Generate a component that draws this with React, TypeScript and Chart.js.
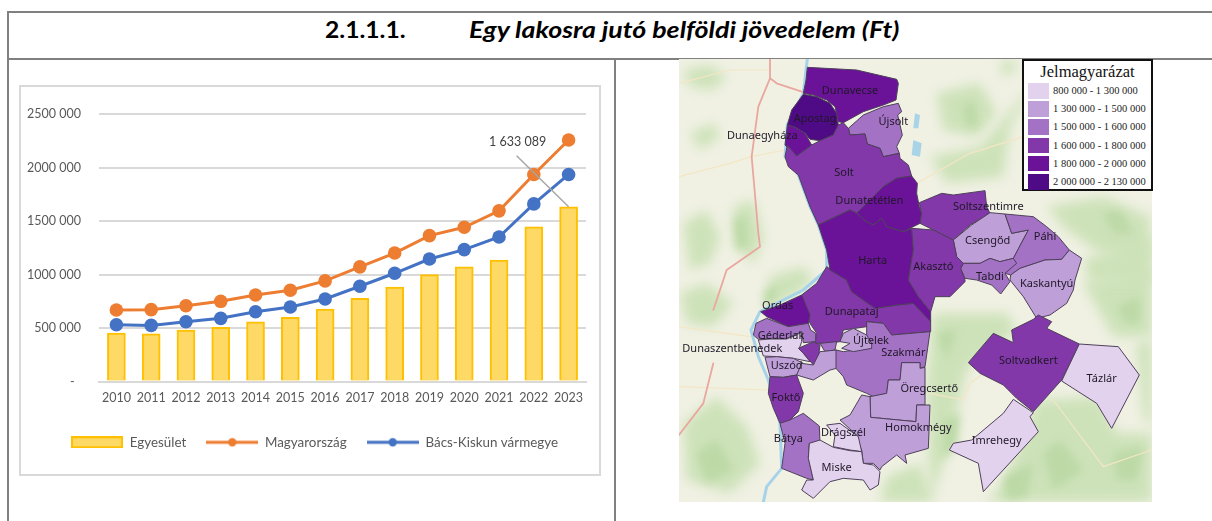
import React, { useEffect, useRef } from "react";
import { Chart, registerables } from "chart.js";

Chart.register(...registerables);

const years = ["2010","2011","2012","2013","2014","2015","2016","2017","2018","2019","2020","2021","2022","2023"];
const egyesulet = [453000,447000,481000,506000,559000,600000,678000,778000,884000,1000000,1072000,1135000,1445000,1633089];
const magyarorszag = [669000,672000,709000,750000,809000,853000,941000,1072000,1201000,1364000,1442000,1595000,1935000,2257000];
const bacsKiskun = [531000,525000,559000,591000,653000,697000,772000,891000,1012000,1145000,1233000,1351000,1660000,1935000];
const seriesNames = ["Egyesület", "Magyarország", "Bács-Kiskun vármegye"];
const barFill = "#FFD966", barEdge = "#FFC000", orange = "#ED7D31", blue = "#4472C4";
const CHART_FONT = "Lato";

const legendTitle = "Jelmagyarázat";
const legendRanges = ["800 000 - 1 300 000","1 300 000 - 1 500 000","1 500 000 - 1 600 000","1 600 000 - 1 800 000","1 800 000 - 2 000 000","2 000 000 - 2 130 000"];
const classColors = ["#e3d2ee","#bf9fd8","#a472c4","#8238a9","#6a1399","#4f0b85"];

type Pt = [number, number];
type Area = [string, number, Pt[]];
const v = (pts: Pt[]): Pt[] => pts.map(([x, y]) => [x, y + 690] as Pt);

const greenPatches: Pt[][] = [
  [[40,60],[120,45],[170,80],[130,120],[60,110]],
  [[60,250],[130,220],[150,260],[90,300]],
  [[40,520],[110,480],[150,560],[120,640],[60,660]],
  [[190,470],[250,450],[280,560],[250,640],[200,590]],
  [[30,730],[110,700],[190,760],[130,830],[50,820]],
  [[300,680],[400,650],[430,690],[370,740],[290,770]],
  [[800,130],[930,100],[980,190],[920,260],[820,240]],
  [[1130,470],[1300,440],[1440,500],[1440,640],[1290,610],[1190,540]],
  [[1000,30],[1040,30],[1030,70],[990,75]],
  [[790,790],[1010,790],[1040,840],[890,960],[840,1180],[780,1356],[770,1000]],
  [[1240,700],[1445,650],[1445,860],[1330,860]],
  [[1100,1050],[1290,1040],[1340,1150],[1445,1150],[1445,1356],[950,1356],[1000,1300]],
  [[40,1120],[140,1040],[230,1130],[270,1240],[180,1330],[50,1290]],
  [[650,1280],[750,1240],[790,1356],[630,1356]],
  [[1400,880],[1445,870],[1445,1130],[1420,1100]],
  [[1100,90],[1020,230],[1000,380],[830,400],[780,320],[930,290]],
  [[1240,630],[1445,560],[1445,700],[1260,700]],
];
const darkPatches: Pt[][] = [
  [[880,170],[910,150],[925,230],[890,230]],
  [[1300,490],[1350,480],[1390,550],[1330,550]],
  [[1120,1210],[1170,1170],[1240,1260],[1150,1320]],
  [[820,1110],[870,1090],[860,1190],[815,1230]],
  [[1340,770],[1410,740],[1410,820],[1370,820]],
  [[80,1210],[140,1170],[190,1260],[110,1300]],
  [[190,510],[225,495],[235,590],[200,600]],
  [[285,720],[325,705],[315,755],[282,770]],
  [[1000,1280],[1090,1240],[1070,1340],[1010,1350]],
  [[800,850],[860,840],[830,930]],
  [[1330,1210],[1420,1190],[1400,1290],[1340,1290]],
];
const lakes: Pt[][] = [
  [[735,190],[750,195],[745,235],[730,235]],
  [[730,270],[755,280],[750,320],[725,315]],
];
const danube: Pt[] = [[412,27],[400,130],[352,225],[345,320],[385,375],[420,470],[445,525],[470,600],[470,660],[400,720],[270,785],[243,840],[265,920],[295,990],[330,1120],[335,1255],[290,1310],[280,1356]];
const roads: Pt[][] = [
  [[300,27],[300,85],[320,100],[395,125]],
  [[300,85],[265,170],[245,320],[265,550],[270,590],[170,660],[130,780]],
  [[130,940],[100,1060],[27,1155]],
];
const lightRoads: Pt[][] = [
  [[27,100],[180,60],[300,60]],
  [[27,380],[180,340],[245,320],[345,300]],
  [[740,400],[900,310],[1060,260],[1445,200]],
  [[780,1030],[880,1050],[900,1000],[1100,850]],
  [[1150,1050],[1300,1250],[1445,1200]],
  [[27,830],[240,860]],
  [[27,1010],[290,1020]],
];

const areas: Area[] = [
  ["Dunavecse", 4, [[412,52],[560,60],[680,88],[685,100],[678,150],[640,165],[580,185],[520,218],[505,215],[495,170],[470,150],[430,135],[400,130],[408,90]]],
  ["Apostag", 5, [[400,133],[440,140],[480,160],[500,190],[505,225],[490,255],[450,272],[420,268],[405,250],[375,232],[352,225],[365,180]]],
  ["Dunaegyháza", 4, [[352,225],[375,232],[405,250],[425,285],[380,318],[345,285]]],
  ["Újsolt", 2, [[535,235],[580,195],[640,170],[685,160],[695,185],[683,195],[697,255],[680,290],[688,310],[640,320],[630,295],[592,282],[585,252],[540,255]]],
  ["Solt", 3, [[352,285],[380,318],[425,285],[450,272],[490,255],[505,225],[520,218],[535,235],[540,255],[585,252],[592,282],[630,295],[640,320],[688,310],[690,325],[715,345],[725,378],[680,385],[640,410],[600,450],[560,490],[540,480],[445,525],[420,470],[385,375],[355,350],[345,320]]],
  ["Dunatetétlen", 4, [[725,378],[742,400],[740,430],[748,470],[755,490],[750,520],[700,545],[650,530],[635,505],[610,525],[585,512],[560,490],[600,450],[640,410],[680,385]]],
  ["Soltszentimre", 3, [[748,458],[815,430],[850,435],[945,422],[950,470],[960,490],[900,525],[850,570],[790,540],[750,520],[755,490]]],
  ["Csengőd", 1, [[850,570],[905,525],[960,488],[1005,492],[1025,550],[1075,540],[1030,625],[990,635],[960,625],[930,640],[880,640],[860,620]]],
  ["Páhi", 2, [[1005,492],[1090,500],[1130,530],[1165,560],[1198,600],[1175,628],[1125,630],[1050,655],[1022,675],[1005,670],[1030,625],[1075,540],[1025,550]]],
  ["Kaskantyú", 1, [[1050,655],[1125,630],[1175,628],[1198,600],[1235,625],[1215,690],[1210,720],[1190,760],[1140,795],[1100,805],[1060,740],[1020,690],[1022,675]]],
  ["Tabdi", 2, [[880,640],[930,640],[960,625],[990,635],[1030,625],[1040,640],[1005,670],[1020,695],[992,732],[965,705],[920,690],[885,685],[872,655]]],
  ["Dunapataj", 3, [[470,650],[530,690],[545,725],[615,775],[680,765],[730,760],[782,815],[782,845],[665,855],[640,820],[590,815],[590,830],[520,840],[510,875],[470,880],[435,880],[440,850],[420,820],[395,735],[440,700]]],
  ["Harta", 4, [[445,525],[540,480],[560,490],[585,512],[610,525],[635,505],[650,530],[700,545],[725,535],[730,600],[715,690],[745,740],[782,785],[782,815],[730,760],[680,765],[615,775],[545,725],[530,690],[480,660],[470,600]]],
  ["Akasztó", 3, [[725,535],[790,540],[850,570],[860,620],[880,640],[872,655],[885,690],[885,695],[840,740],[795,740],[782,785],[745,740],[715,690],[730,600]]],
  ["Ordas", 4, v([[272,95],[330,75],[395,45],[420,105],[415,130],[355,140],[290,110]])],
  ["Géderlak", 2, [[250,855],[258,820],[290,805],[355,830],[415,820],[422,840],[437,850],[437,875],[400,878],[395,845],[350,865],[300,865],[265,868]]],
  ["Dunaszentbenedek", 0, v([[265,180],[300,177],[350,177],[395,157],[395,185],[388,205],[420,245],[370,235],[320,230],[280,228]])],
  ["", 3, v([[385,205],[430,185],[450,195],[445,235],[430,255],[405,225]])],
  ["", 2, v([[450,190],[500,185],[495,210],[465,215]])],
  ["Uszód", 1, v([[285,232],[320,230],[370,235],[400,250],[380,285],[340,292],[300,290]])],
  ["", 1, v([[395,250],[430,255],[450,215],[500,210],[500,265],[480,270],[430,300],[380,285]])],
  ["Szakmár", 2, v([[590,125],[640,130],[665,165],[780,155],[765,260],[750,265],[750,248],[695,248],[690,300],[655,300],[650,340],[610,350],[590,340],[530,315],[520,290],[498,265],[498,210],[520,215],[590,205],[605,190],[590,170]])],
  ["Újtelek", 1, v([[520,160],[550,145],[590,165],[605,190],[605,205],[550,215],[515,205],[540,190],[510,185]])],
  ["Öregcsertő", 1, v([[695,248],[750,248],[750,265],[765,262],[765,375],[740,375],[738,425],[602,412],[600,350],[650,340],[655,300],[690,300]])],
  ["Foktő", 3, v([[300,290],[340,292],[380,285],[400,340],[385,395],[360,420],[330,430],[310,385],[295,340]])],
  ["Bátya", 2, v([[330,430],[360,420],[400,400],[448,438],[450,490],[418,490],[415,530],[430,600],[410,595],[335,565],[345,490]])],
  ["Homokmégy", 1, v([[510,420],[540,405],[575,345],[600,350],[602,412],[738,425],[740,375],[780,375],[775,505],[705,525],[710,550],[680,525],[635,560],[630,570],[610,550],[580,550],[575,510],[565,490],[565,470]])],
  ["Drágszél", 0, v([[470,435],[510,430],[565,470],[575,515],[540,510],[490,500],[495,465]])],
  ["Miske", 0, v([[418,490],[450,480],[490,502],[540,512],[575,515],[580,550],[610,555],[630,575],[625,615],[600,630],[580,600],[520,595],[480,605],[430,655],[395,630],[410,600],[430,600],[415,535]])],
  ["Soltvadkert", 3, v([[895,248],[970,160],[1030,188],[1025,150],[1090,118],[1105,105],[1145,125],[1130,145],[1228,192],[1175,300],[1090,395],[1040,355],[1000,315],[930,280]])],
  ["Tázlár", 0, v([[1228,192],[1345,200],[1408,285],[1325,445],[1280,370],[1175,303]])],
  ["Imrehegy", 0, v([[1030,358],[1090,398],[1080,410],[1105,455],[940,635],[925,550],[838,510],[850,490],[905,480],[1000,400]])],
];

const placeNames = ["Dunavecse","Apostag","Dunaegyháza","Újsolt","Solt","Dunatetétlen","Soltszentimre","Csengőd","Páhi","Harta","Akasztó","Tabdi","Kaskantyú","Ordas","Dunapataj","Géderlak","Újtelek","Dunaszentbenedek","Szakmár","Uszód","Öregcsertő","Soltvadkert","Tázlár","Foktő","Homokmégy","Drágszél","Bátya","Imrehegy","Miske"];
const placeX = [540,435,277,670,522,598,955,953,1125,608,790,960,1130,323,545,333,603,187,700,350,778,1075,1295,348,745,520,355,980,500];
const placeY = [123,208,257,217,368,452,470,573,562,634,652,682,702,768,787,858,873,897,910,948,1018,933,987,1045,1135,1150,1167,1172,1255];

const fmtTick = (n: number) => {
  if (n === 0) return "-\u00a0\u00a0";
  const s = String(n);
  return s.slice(0, -3) + " " + s.slice(-3);
};
const fmtLabel = (n: number) => String(n).replace(/\B(?=(\d{3})+$)/g, " ");

function legendIcon(kind: "bar" | "line", color: string, edge?: string) {
  const c = document.createElement("canvas");
  c.width = 52; c.height = 12;
  const g = c.getContext("2d")!;
  if (kind === "bar") {
    g.fillStyle = color; g.fillRect(1, 1, 50, 10);
    g.strokeStyle = edge!; g.lineWidth = 2; g.strokeRect(1, 1, 50, 10);
  } else {
    g.strokeStyle = color; g.lineWidth = 3;
    g.beginPath(); g.moveTo(0, 6); g.lineTo(52, 6); g.stroke();
    g.fillStyle = color; g.beginPath(); g.arc(26, 6, 4.2, 0, Math.PI * 2); g.fill();
  }
  return c;
}

const calloutPlugin = {
  id: "callout",
  afterLayout(chart: any) {
    chart.legend.left += 8;
    chart.legend.right += 8;
  },
  afterDatasetsDraw(chart: any) {
    const i = years.length - 1;
    const x = chart.scales.x.getPixelForValue(i);
    const y = chart.scales.y.getPixelForValue(egyesulet[i]);
    const g = chart.ctx;
    g.save();
    g.strokeStyle = "#a6a6a6"; g.lineWidth = 1.5;
    g.beginPath(); g.moveTo(x, y); g.lineTo(x - 52, y - 51); g.stroke();
    g.fillStyle = "#404040"; g.font = `12.5px ${CHART_FONT}`;
    g.textAlign = "center"; g.textBaseline = "middle";
    g.fillText(fmtLabel(egyesulet[i]), x - 51, y - 65);
    g.restore();
  },
};

const mapPlugin = {
  id: "mapShapes",
  beforeDatasetsDraw(chart: any) {
    const g = chart.ctx;
    chart.data.datasets.forEach((ds: any, idx: number) => {
      const pts = chart.getDatasetMeta(idx).data;
      if (!pts.length) return;
      g.save();
      if (ds.soft) g.filter = `blur(${ds.soft}px)`;
      g.beginPath();
      pts.forEach((p: any, k: number) => (k ? g.lineTo(p.x, p.y) : g.moveTo(p.x, p.y)));
      if (ds.shape === "area") {
        g.closePath();
        g.fillStyle = ds.fillColor;
        g.fill();
        if (ds.edgeColor) { g.strokeStyle = ds.edgeColor; g.lineWidth = 1; g.lineJoin = "round"; g.stroke(); }
      } else {
        g.strokeStyle = ds.edgeColor; g.lineWidth = ds.edgeWidth; g.lineJoin = "round"; g.lineCap = "round"; g.stroke();
      }
      g.restore();
    });
  },
  afterDatasetsDraw(chart: any) {
    const g = chart.ctx;
    g.save();
    g.fillStyle = "#1f1826"; g.font = "11px 'Noto Sans'";
    g.textAlign = "center"; g.textBaseline = "middle";
    placeNames.forEach((name, i) => {
      g.fillText(name, chart.scales.x.getPixelForValue(placeX[i]), chart.scales.y.getPixelForValue(placeY[i]));
    });
    g.restore();
  },
};

const toData = (pts: Pt[]) => pts.map(([x, y]) => ({ x, y }));

export default function App() {
  const barRef = useRef<HTMLCanvasElement>(null);
  const mapRef = useRef<HTMLCanvasElement>(null);

  useEffect(() => {
    const icons = [legendIcon("bar", barFill, barEdge), legendIcon("line", orange), legendIcon("line", blue)];
    const line = (label: string, data: number[], color: string, order: number) => ({
      type: "line", label, data, borderColor: color, backgroundColor: color, borderWidth: 3,
      pointRadius: 6.8, pointBackgroundColor: color, pointBorderColor: color, pointBorderWidth: 0, tension: 0, order,
    });
    const chart = new Chart(barRef.current!, {
      type: "bar",
      plugins: [calloutPlugin],
      data: {
        labels: years,
        datasets: [
          { type: "bar", label: seriesNames[0], data: egyesulet, backgroundColor: barFill, borderColor: barEdge, borderWidth: 2, barThickness: 18, order: 3 },
          line(seriesNames[1], magyarorszag, orange, 2),
          line(seriesNames[2], bacsKiskun, blue, 1),
        ] as any,
      },
      options: {
        animation: false, responsive: false,
        layout: { padding: { left: 8, right: 29, top: 29, bottom: 16 } },
        plugins: {
          tooltip: { enabled: false },
          legend: {
            position: "bottom",
            labels: {
              usePointStyle: true, pointStyleWidth: 52, boxHeight: 12, padding: 20, color: "#595959",
              font: { family: CHART_FONT, size: 13.4 },
              generateLabels: () => seriesNames.map((text, i) => ({ text, pointStyle: icons[i], lineWidth: 0, fillStyle: "#000", strokeStyle: "#000", fontColor: "#595959", datasetIndex: i, hidden: false })) as any,
            },
          },
        },
        scales: {
          x: {
            grid: { display: false, drawTicks: false },
            border: { color: "#d9d9d9", width: 2 },
            ticks: { color: "#595959", padding: 9, font: { family: CHART_FONT, size: 12.5 }, maxRotation: 0, autoSkip: false },
            afterFit: (s: any) => { s.height = 34; },
          },
          y: {
            min: 0, max: 2500000,
            grid: { color: "#d9d9d9", lineWidth: 2, drawTicks: false },
            border: { display: false },
            ticks: { stepSize: 500000, color: "#595959", padding: 18, font: { family: CHART_FONT, size: 12.5 }, callback: (val: any) => fmtTick(Number(val)) },
            afterFit: (s: any) => { s.width = 72; },
          },
        },
      } as any,
    });

    const shape = (pts: Pt[], fillColor: string, edgeColor?: string, soft?: number) => ({ data: toData(pts), shape: "area", fillColor, edgeColor, soft, pointRadius: 0, showLine: false });
    const path = (pts: Pt[], edgeColor: string, edgeWidth: number) => ({ data: toData(pts), shape: "path", edgeColor, edgeWidth, pointRadius: 0, showLine: false });
    const map = new Chart(mapRef.current!, {
      type: "scatter",
      plugins: [mapPlugin],
      data: {
        datasets: [
          ...greenPatches.map((p) => shape(p, "#cde2b9", undefined, 6)),
          ...darkPatches.map((p) => shape(p, "#bcd9a6", undefined, 4)),
          ...lakes.map((p) => shape(p, "#a9d3e6")),
          ...lightRoads.map((p) => path(p, "#f4e6c4", 1.2)),
          path(danube, "#a6d2ea", 3),
          ...roads.map((p) => path(p, "#e9a79f", 1.8)),
          ...areas.map(([, cls, p]) => shape(p, classColors[cls], "#4d3f59")),
        ] as any,
      },
      options: {
        animation: false, responsive: false,
        layout: { padding: 0 },
        plugins: { legend: { display: false }, tooltip: { enabled: false } },
        scales: {
          x: { type: "linear", display: false, min: 27, max: 1446 },
          y: { type: "linear", display: false, min: 27, max: 1356, reverse: true },
        },
      } as any,
    });
    return () => { chart.destroy(); map.destroy(); };
  }, []);

  const abs = (left: number, top: number, width: number, height: number, extra: React.CSSProperties = {}): React.CSSProperties => ({ position: "absolute", left, top, width, height, ...extra });
  const rule = "#808080";
  const titleFont: React.CSSProperties = { fontFamily: "Lato", fontWeight: 700, fontSize: 22, lineHeight: "28px", color: "#000", whiteSpace: "nowrap", transformOrigin: "left center" };

  return (
    <div style={abs(0, 0, 1212, 521, { overflow: "hidden", background: "#fff", position: "fixed" })}>
      <div style={abs(8, 11, 1204, 2, { background: rule })} />
      <div style={abs(8, 58, 1204, 2, { background: rule })} />
      <div style={abs(7, 11, 2, 510, { background: rule })} />
      <div style={abs(614, 58, 2, 463, { background: rule })} />
      <div style={abs(325, 16, 100, 28, { ...titleFont, transform: "scaleX(1.12)" })}>2.1.1.1.</div>
      <div style={abs(469, 16, 460, 28, { ...titleFont, fontStyle: "italic", transform: "scaleX(1.217)" })}>Egy lakosra jutó belföldi jövedelem (Ft)</div>

      <div style={abs(19, 85, 578, 387, { border: "2px solid #d9d9d9", background: "#fff" })} />
      <canvas ref={barRef} width={596} height={390} style={abs(19, 85, 596, 390, { filter: "blur(0.35px)" })} />

      <canvas ref={mapRef} width={473} height={443} style={abs(679, 59, 473, 443, { background: "#f0f1e3", filter: "blur(0.6px)" })} />
      <div style={abs(1022, 59, 127, 128, { border: "2px solid #111", background: "#fff", boxSizing: "content-box" })}>
        <div style={{ position: "absolute", left: 0, right: 0, top: 1, textAlign: "center", fontFamily: "'Liberation Serif'", fontSize: 16.5, lineHeight: "20px", color: "#111" }}>{legendTitle}</div>
        {legendRanges.map((r, i) => (
          <div key={r}>
            <div style={abs(4, 22 + i * 18.2, 21, 15.5, { background: classColors[i] })} />
            <div style={abs(29, 21 + i * 18.2, 98, 17, { fontFamily: "'Liberation Serif'", fontSize: 10.5, lineHeight: "17px", color: "#222", whiteSpace: "nowrap" })}>{r}</div>
          </div>
        ))}
      </div>
    </div>
  );
}
